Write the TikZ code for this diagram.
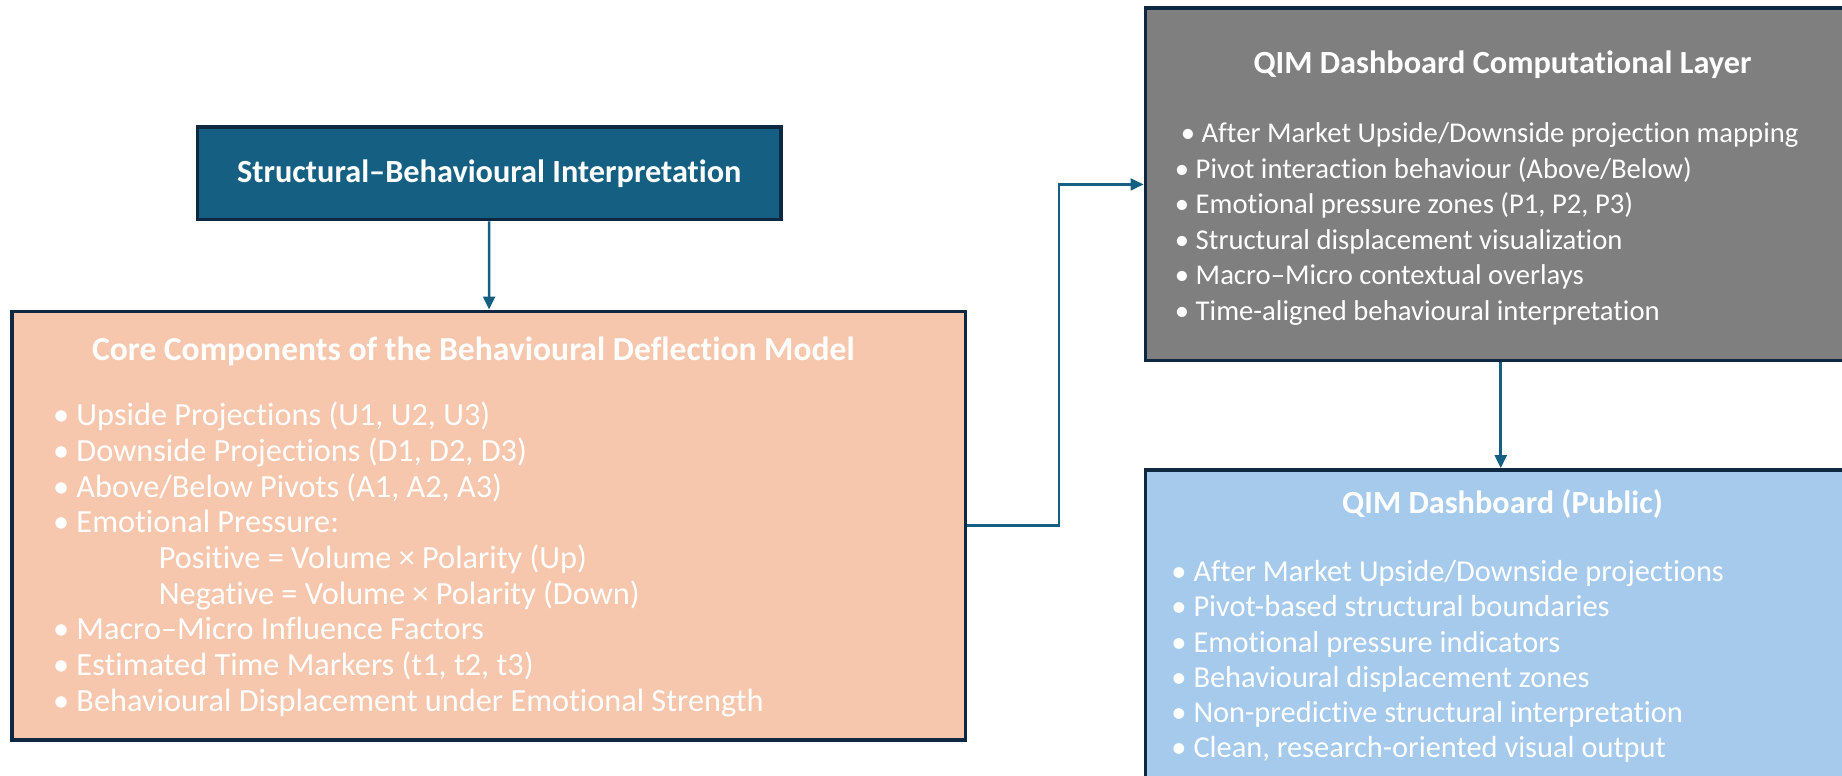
\documentclass[tikz,border=0pt]{standalone}
\usepackage{fontspec}
\setmainfont{Carlito}[RawFeature={-liga;-clig;-calt;-dlig}]
\usetikzlibrary{arrows.meta}
\definecolor{boxline}{HTML}{0E2841}
\definecolor{linkblue}{HTML}{156082}
\definecolor{interpfill}{HTML}{156082}
\definecolor{corefill}{HTML}{F6C6AD}
\definecolor{layerfill}{HTML}{7F7F7F}
\definecolor{publicfill}{HTML}{A6CAEC}
\begin{document}
\begin{tikzpicture}[x=1pt,y=-1pt]
        \tikzstyle{box}=[draw=boxline,line width=3pt,inner sep=0pt]
        \tikzstyle{head}=[text=white,inner sep=0pt,font=\bfseries\fontsize{27.5}{30}\selectfont]
        \tikzstyle{items}=[text=white,inner sep=0pt,align=left,anchor=north west]
        \tikzstyle{edge}=[draw=linkblue,line width=2.2pt,-{Triangle[length=11pt,width=10pt]}]
        \useasboundingbox (0,0) rectangle (1568,660);

        \node [box,fill=interpfill,minimum width=497pt,minimum height=79pt] (interp) at (416.5,147.5) {};
        \node [head] (interptext) at (interp) {Structural–Behavioural Interpretation};

        \node [box,fill=corefill,minimum width=812pt,minimum height=365pt] (core) at (416,447.5) {};
        \node [head,font=\bfseries\fontsize{28.6}{30}\selectfont] (coretitle) at (403,299) {Core Components of the Behavioural Deflection Model};
        \node [items,font=\fontsize{27.5}{30.4}\selectfont] (coreitems) at (45,342) {%
          • Upside Projections (U1, U2, U3)\\
          • Downside Projections (D1, D2, D3)\\
          • Above/Below Pivots (A1, A2, A3)\\
          • Emotional Pressure:\\
          \hspace*{90pt}Positive = Volume × Polarity (Up)\\
          \hspace*{90pt}Negative = Volume × Polarity (Down)\\
          • Macro–Micro Influence Factors\\
          • Estimated Time Markers (t1, t2, t3)\\
          • Behavioural Displacement under Emotional Strength};

        \node [box,fill=layerfill,minimum width=605pt,minimum height=300pt] (layer) at (1277.5,157) {};
        \node [head] (layertitle) at (1279,55) {QIM Dashboard Computational Layer};
        \node [items,font=\fontsize{24.4}{30.2}\selectfont] (layeritems) at (1000,104.5) {%
          \hspace*{5pt}• After Market Upside/Downside projection mapping\\
          • Pivot interaction behaviour (Above/Below)\\
          • Emotional pressure zones (P1, P2, P3)\\
          • Structural displacement visualization\\
          • Macro–Micro contextual overlays\\
          • Time-aligned behavioural interpretation};

        \node [box,fill=publicfill,minimum width=605pt,minimum height=280pt] (public) at (1277.5,540) {};
        \node [head] (publictitle) at (1279,429) {QIM Dashboard (Public)};
        \node [items,font=\fontsize{25.9}{30}\selectfont] (publicitems) at (997,477) {%
          • After Market Upside/Downside projections\\
          • Pivot-based structural boundaries\\
          • Emotional pressure indicators\\
          • Behavioural displacement zones\\
          • Non-predictive structural interpretation\\
          • Clean, research-oriented visual output};

        \path[edge] (interp) -- (core);
        \path[edge] (core.east) -- ++(78,0) |- (layer.west);
        \path[edge] (layer) -- (public);
\end{tikzpicture}
\end{document}
